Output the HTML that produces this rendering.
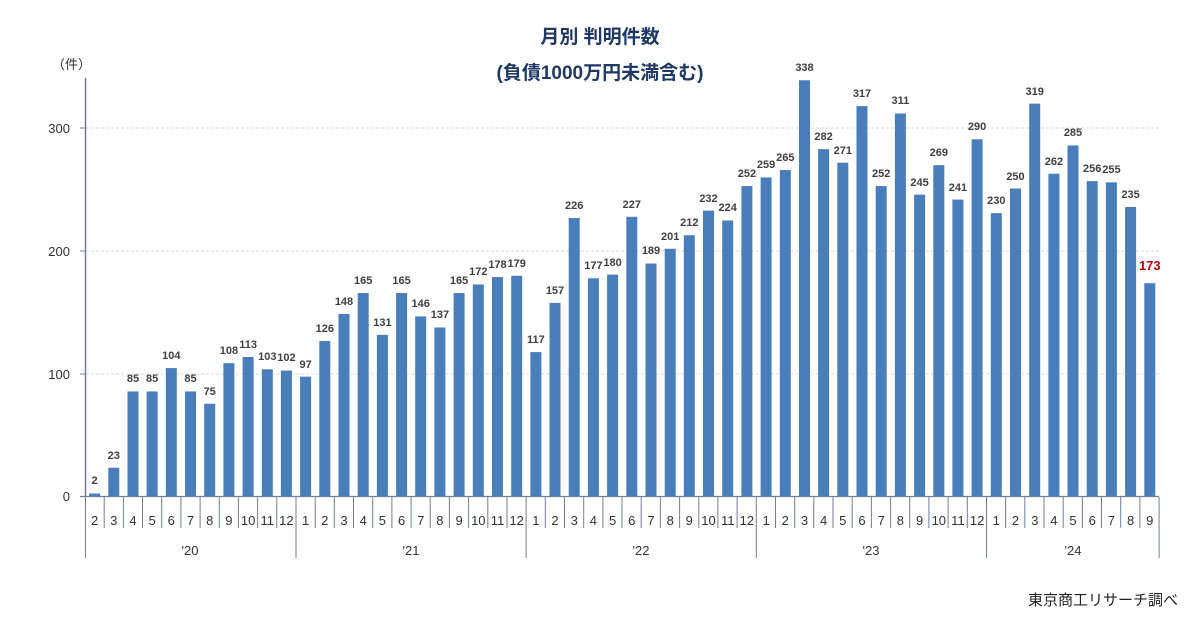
<!DOCTYPE html>
<html><head><meta charset="utf-8"><style>
html,body{margin:0;padding:0;background:#fff;}
svg{display:block;font-family:"Liberation Sans","Noto Sans CJK JP",sans-serif;}
.v{font-size:11px;fill:#404040;text-anchor:middle;font-weight:bold;}
.m{font-size:13px;fill:#333;text-anchor:middle;}
.y{font-size:13px;fill:#333;text-anchor:end;}
</style></head><body>
<svg width="1200" height="636" viewBox="0 0 1200 636">
<text x="600" y="43" text-anchor="middle" font-size="19" font-weight="bold" fill="#1f3864">月別 判明件数</text>
<text x="600" y="79" text-anchor="middle" font-size="19" font-weight="bold" fill="#1f3864">(負債1000万円未満含む)</text>
<text x="52" y="69" font-size="13" fill="#333">（件）</text>
<g stroke="#d9d9d9" stroke-dasharray="3,2">
<line x1="86" y1="374" x2="1159" y2="374"/><line x1="86" y1="251" x2="1159" y2="251"/><line x1="86" y1="128" x2="1159" y2="128"/>
</g>
<text class="y" x="70" y="501">0</text><text class="y" x="70" y="379">100</text><text class="y" x="70" y="256">200</text><text class="y" x="70" y="133">300</text>
<g fill="#4a7ebb" transform="matrix(1,0,0,-1.23,0,496)">
<rect x="89.1" y="0" width="11" height="2"/><rect x="108.3" y="0" width="11" height="23"/><rect x="127.5" y="0" width="11" height="85"/><rect x="146.6" y="0" width="11" height="85"/><rect x="165.8" y="0" width="11" height="104"/><rect x="185" y="0" width="11" height="85"/><rect x="204.2" y="0" width="11" height="75"/><rect x="223.4" y="0" width="11" height="108"/><rect x="242.6" y="0" width="11" height="113"/><rect x="261.8" y="0" width="11" height="103"/><rect x="280.9" y="0" width="11" height="102"/>
<rect x="300.1" y="0" width="11" height="97"/><rect x="319.3" y="0" width="11" height="126"/><rect x="338.5" y="0" width="11" height="148"/><rect x="357.7" y="0" width="11" height="165"/><rect x="376.9" y="0" width="11" height="131"/><rect x="396.1" y="0" width="11" height="165"/><rect x="415.2" y="0" width="11" height="146"/><rect x="434.4" y="0" width="11" height="137"/><rect x="453.6" y="0" width="11" height="165"/><rect x="472.8" y="0" width="11" height="172"/><rect x="492" y="0" width="11" height="178"/><rect x="511.2" y="0" width="11" height="179"/>
<rect x="530.4" y="0" width="11" height="117"/><rect x="549.5" y="0" width="11" height="157"/><rect x="568.7" y="0" width="11" height="226"/><rect x="587.9" y="0" width="11" height="177"/><rect x="607.1" y="0" width="11" height="180"/><rect x="626.3" y="0" width="11" height="227"/><rect x="645.5" y="0" width="11" height="189"/><rect x="664.7" y="0" width="11" height="201"/><rect x="683.8" y="0" width="11" height="212"/><rect x="703" y="0" width="11" height="232"/><rect x="722.2" y="0" width="11" height="224"/><rect x="741.4" y="0" width="11" height="252"/>
<rect x="760.6" y="0" width="11" height="259"/><rect x="779.8" y="0" width="11" height="265"/><rect x="799" y="0" width="11" height="338"/><rect x="818.1" y="0" width="11" height="282"/><rect x="837.3" y="0" width="11" height="271"/><rect x="856.5" y="0" width="11" height="317"/><rect x="875.7" y="0" width="11" height="252"/><rect x="894.9" y="0" width="11" height="311"/><rect x="914.1" y="0" width="11" height="245"/><rect x="933.3" y="0" width="11" height="269"/><rect x="952.4" y="0" width="11" height="241"/><rect x="971.6" y="0" width="11" height="290"/>
<rect x="990.8" y="0" width="11" height="230"/><rect x="1010" y="0" width="11" height="250"/><rect x="1029.2" y="0" width="11" height="319"/><rect x="1048.4" y="0" width="11" height="262"/><rect x="1067.5" y="0" width="11" height="285"/><rect x="1086.7" y="0" width="11" height="256"/><rect x="1105.9" y="0" width="11" height="255"/><rect x="1125.1" y="0" width="11" height="235"/><rect x="1144.3" y="0" width="11" height="173"/>
</g>
<g class="v">
<text x="94.6" y="484">2</text><text x="113.8" y="459">23</text><text x="133" y="382">85</text><text x="152.1" y="382">85</text><text x="171.3" y="359">104</text><text x="190.5" y="382">85</text><text x="209.7" y="395">75</text><text x="228.9" y="354">108</text><text x="248.1" y="348">113</text><text x="267.3" y="360">103</text><text x="286.4" y="361">102</text>
<text x="305.6" y="368">97</text><text x="324.8" y="332">126</text><text x="344" y="305">148</text><text x="363.2" y="284">165</text><text x="382.4" y="326">131</text><text x="401.6" y="284">165</text><text x="420.7" y="307">146</text><text x="439.9" y="318">137</text><text x="459.1" y="284">165</text><text x="478.3" y="275">172</text><text x="497.5" y="268">178</text><text x="516.7" y="267">179</text>
<text x="535.9" y="343">117</text><text x="555" y="294">157</text><text x="574.2" y="209">226</text><text x="593.4" y="269">177</text><text x="612.6" y="266">180</text><text x="631.8" y="208">227</text><text x="651" y="254">189</text><text x="670.2" y="240">201</text><text x="689.3" y="226">212</text><text x="708.5" y="202">232</text><text x="727.7" y="211">224</text><text x="746.9" y="177">252</text>
<text x="766.1" y="168">259</text><text x="785.3" y="161">265</text><text x="804.5" y="71">338</text><text x="823.6" y="140">282</text><text x="842.8" y="154">271</text><text x="862" y="97">317</text><text x="881.2" y="177">252</text><text x="900.4" y="104">311</text><text x="919.6" y="186">245</text><text x="938.8" y="156">269</text><text x="957.9" y="191">241</text><text x="977.1" y="130">290</text>
<text x="996.3" y="204">230</text><text x="1015.5" y="180">250</text><text x="1034.7" y="95">319</text><text x="1053.9" y="165">262</text><text x="1073" y="136">285</text><text x="1092.2" y="172">256</text><text x="1111.4" y="173">255</text><text x="1130.6" y="198">235</text>
<text x="1149.8" y="270" fill="#c00000" style="font-size:13px;fill:#c00000">173</text>
</g>
<line x1="85.5" y1="78" x2="85.5" y2="497" stroke="#6f7f99" stroke-width="1.5"/>
<line x1="80" y1="496.5" x2="1159" y2="496.5" stroke="#6f7f99" stroke-width="1.2"/>
<g stroke="#6f7f99" stroke-width="1">
<line x1="80" y1="374" x2="86" y2="374"/><line x1="80" y1="251" x2="86" y2="251"/><line x1="80" y1="128" x2="86" y2="128"/>
<path d="M104.2 497V528M123.4 497V528M142.5 497V528M161.7 497V528M180.9 497V528M200.1 497V528M219.3 497V528M238.4 497V528M257.6 497V528M276.8 497V528M315.2 497V528M334.3 497V528M353.5 497V528M372.7 497V528M391.9 497V528M411.1 497V528M430.2 497V528M449.4 497V528M468.6 497V528M487.8 497V528M507 497V528M545.3 497V528M564.5 497V528M583.7 497V528M602.9 497V528M622 497V528M641.2 497V528M660.4 497V528M679.6 497V528M698.8 497V528M717.9 497V528M737.1 497V528M775.5 497V528M794.7 497V528M813.8 497V528M833 497V528M852.2 497V528M871.4 497V528M890.6 497V528M909.7 497V528M928.9 497V528M948.1 497V528M967.3 497V528M1005.6 497V528M1024.8 497V528M1044 497V528M1063.2 497V528M1082.4 497V528M1101.5 497V528M1120.7 497V528M1139.9 497V528"/>
<path d="M85.5 497V558M296 497V558M526.1 497V558M756.3 497V558M986.5 497V558M1159.1 497V558"/>
</g>
<g class="m">
<text x="94.6" y="525">2</text><text x="113.8" y="525">3</text><text x="133" y="525">4</text><text x="152.1" y="525">5</text><text x="171.3" y="525">6</text><text x="190.5" y="525">7</text><text x="209.7" y="525">8</text><text x="228.9" y="525">9</text><text x="248.1" y="525">10</text><text x="267.3" y="525">11</text><text x="286.4" y="525">12</text>
<text x="305.6" y="525">1</text><text x="324.8" y="525">2</text><text x="344" y="525">3</text><text x="363.2" y="525">4</text><text x="382.4" y="525">5</text><text x="401.6" y="525">6</text><text x="420.7" y="525">7</text><text x="439.9" y="525">8</text><text x="459.1" y="525">9</text><text x="478.3" y="525">10</text><text x="497.5" y="525">11</text><text x="516.7" y="525">12</text>
<text x="535.9" y="525">1</text><text x="555" y="525">2</text><text x="574.2" y="525">3</text><text x="593.4" y="525">4</text><text x="612.6" y="525">5</text><text x="631.8" y="525">6</text><text x="651" y="525">7</text><text x="670.2" y="525">8</text><text x="689.3" y="525">9</text><text x="708.5" y="525">10</text><text x="727.7" y="525">11</text><text x="746.9" y="525">12</text>
<text x="766.1" y="525">1</text><text x="785.3" y="525">2</text><text x="804.5" y="525">3</text><text x="823.6" y="525">4</text><text x="842.8" y="525">5</text><text x="862" y="525">6</text><text x="881.2" y="525">7</text><text x="900.4" y="525">8</text><text x="919.6" y="525">9</text><text x="938.8" y="525">10</text><text x="957.9" y="525">11</text><text x="977.1" y="525">12</text>
<text x="996.3" y="525">1</text><text x="1015.5" y="525">2</text><text x="1034.7" y="525">3</text><text x="1053.9" y="525">4</text><text x="1073" y="525">5</text><text x="1092.2" y="525">6</text><text x="1111.4" y="525">7</text><text x="1130.6" y="525">8</text><text x="1149.8" y="525">9</text>
<text x="190" y="555">'20</text><text x="411" y="555">'21</text><text x="641" y="555">'22</text><text x="871" y="555">'23</text><text x="1073" y="555">'24</text>
</g>
<text x="1178" y="605" text-anchor="end" font-size="15" fill="#222">東京商工リサーチ調べ</text>
</svg>
</body></html>
